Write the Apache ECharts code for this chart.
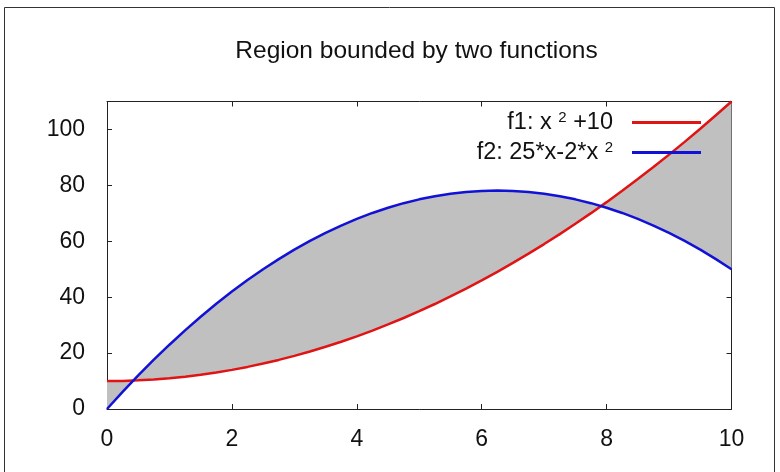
<!DOCTYPE html>
<html>
<head>
<meta charset="utf-8">
<script src="https://cdn.jsdelivr.net/npm/echarts@6/dist/echarts.min.js"></script>
<style>
  html, body { margin: 0; padding: 0; background: #fff; }
  #chart { width: 780px; height: 472px; }
</style>
</head>
<body>
<div id="chart"></div>
<script>
// Sample points along x, and the two curves evaluated there
const xs = [0, 0.25, 0.5, 0.75, 1, 1.25, 1.5, 1.75, 2, 2.25, 2.5, 2.75, 3, 3.25, 3.5, 3.75, 4,
  4.25, 4.5, 4.75, 5, 5.25, 5.5, 5.75, 6, 6.25, 6.5, 6.75, 7, 7.25, 7.5, 7.75, 8,
  8.25, 8.5, 8.75, 9, 9.25, 9.5, 9.75, 10];
const f1 = [10, 10.06, 10.25, 10.56, 11, 11.56, 12.25, 13.06, 14, 15.06, 16.25, 17.56, 19,
  20.56, 22.25, 24.06, 26, 28.06, 30.25, 32.56, 35, 37.56, 40.25, 43.06, 46, 49.06,
  52.25, 55.56, 59, 62.56, 66.25, 70.06, 74, 78.06, 82.25, 86.56, 91, 95.56, 100.25,
  105.06, 110];
const f2 = [0, 6.13, 12, 17.63, 23, 28.13, 33, 37.63, 42, 46.13, 50, 53.63, 57, 60.13, 63,
  65.63, 68, 70.13, 72, 73.63, 75, 76.13, 77, 77.63, 78, 78.13, 78, 77.63, 77, 76.13,
  75, 73.63, 72, 70.13, 68, 65.63, 63, 60.13, 57, 53.63, 50];
const xTicks = [0, 2, 4, 6, 8, 10];
const yTicks = [0, 20, 40, 60, 80, 100];

const FONT = '"Liberation Sans", Arial, sans-serif';
const RED = '#e01414';
const BLUE = '#1212d6';
const chart = echarts.init(document.getElementById('chart'), null, { renderer: 'canvas' });

const axisCommon = {
  axisLine: { show: true, onZero: false, lineStyle: { color: '#222', width: 1 } },
  axisTick: { show: true, inside: true, length: 5, lineStyle: { color: '#222', width: 1 } },
  splitLine: { show: false }
};

// legend labels: regular text plus a smaller exponent lifted by bottom padding
const legendRich = {
  a: { fontSize: 23.5, fontFamily: FONT, color: '#111', lineHeight: 25, verticalAlign: 'bottom' },
  s: { fontSize: 15, fontFamily: FONT, color: '#111', lineHeight: 15, verticalAlign: 'bottom', padding: [0, 0, 10, 0] }
};

chart.setOption({
  backgroundColor: '#fff',
  animation: false,
  title: {
    text: 'Region bounded by two functions',
    left: 416.5,
    top: 39,
    padding: 0,
    textAlign: 'center',
    textStyle: { fontFamily: FONT, fontSize: 24.5, fontWeight: 'normal', color: '#111' }
  },
  legend: {
    orient: 'vertical',
    align: 'right',
    right: 79,
    top: 110,
    padding: 0,
    itemWidth: 69,
    itemHeight: 3,
    itemGap: 5,
    selectedMode: false,
    data: [
      { name: 'f1', icon: 'rect' },
      { name: 'f2', icon: 'rect' }
    ],
    formatter: function (name) {
      return name === 'f1' ? '{a|f1: x }{s|2}{a| +10}' : '{a|f2: 25*x-2*x }{s|2}';
    },
    textStyle: { rich: legendRich, padding: [0, 14, 0, 0] }
  },
  grid: { left: 107, right: 48.5, top: 101.5, bottom: 63 },
  xAxis: [
    Object.assign({}, axisCommon, {
      type: 'value', min: 0, max: 10, interval: 2, position: 'bottom',
      axisLabel: { margin: 19, fontSize: 23, fontFamily: FONT, color: '#111',
        formatter: v => (xTicks.includes(v) ? String(v) : '') }
    }),
    Object.assign({}, axisCommon, {
      type: 'value', min: 0, max: 10, interval: 2, position: 'top',
      axisLabel: { show: false }
    })
  ],
  yAxis: [
    Object.assign({}, axisCommon, {
      type: 'value', min: 0, max: 110, interval: 20, position: 'left',
      axisLabel: { margin: 22, fontSize: 23, fontFamily: FONT, color: '#111', showMaxLabel: false,
        formatter: v => (yTicks.includes(v) ? String(v) : '') }
    }),
    Object.assign({}, axisCommon, {
      type: 'value', min: 0, max: 110, interval: 20, position: 'right',
      axisLabel: { show: false }
    })
  ],
  graphic: [
    {
      type: 'rect', silent: true, z: -10,
      shape: { x: 4.5, y: 7.5, width: 770, height: 500 },
      style: { fill: 'none', stroke: '#333', lineWidth: 1 }
    }
  ],
  series: [
    {
      type: 'custom',
      name: 'region',
      silent: true,
      clip: true,
      z: 1,
      data: [[0, 0]],
      renderItem: function (params, api) {
        // one polygon: along f1 forward, back along f2
        const pts = [];
        for (let i = 0; i < xs.length; i++) pts.push(api.coord([xs[i], f1[i]]));
        for (let i = xs.length - 1; i >= 0; i--) pts.push(api.coord([xs[i], f2[i]]));
        return { type: 'polygon', shape: { points: pts }, style: { fill: '#c0c0c0', stroke: null } };
      }
    },
    {
      type: 'line', name: 'f1', z: 3, symbol: 'none', clip: true,
      data: xs.map((x, i) => [x, f1[i]]),
      lineStyle: { color: RED, width: 2.5 },
      itemStyle: { color: RED }
    },
    {
      type: 'line', name: 'f2', z: 3, symbol: 'none', clip: true,
      data: xs.map((x, i) => [x, f2[i]]),
      lineStyle: { color: BLUE, width: 2.5 },
      itemStyle: { color: BLUE }
    }
  ]
});
</script>
</body>
</html>
